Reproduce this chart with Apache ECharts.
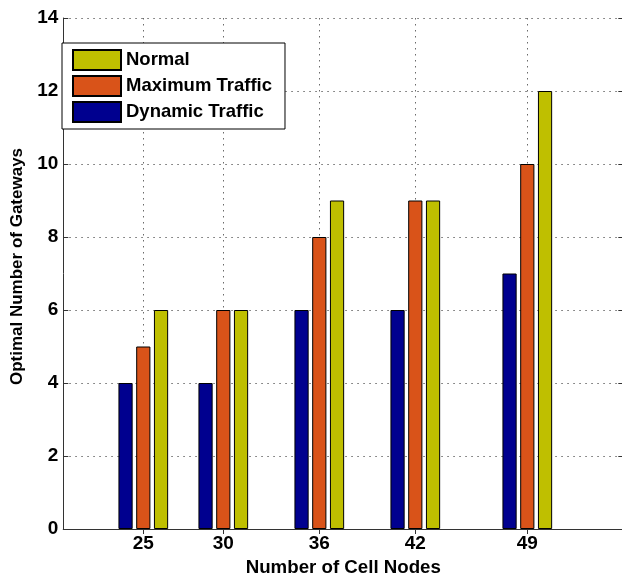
<!DOCTYPE html>
<html>
<head>
<meta charset="utf-8">
<title>Optimal Number of Gateways</title>
<script src="https://cdn.jsdelivr.net/npm/echarts@6/dist/echarts.min.js"></script>
<style>
  html, body { margin: 0; padding: 0; background: #fff; }
  #chart { width: 622px; height: 574px; }
</style>
</head>
<body>
<div id="chart"></div>
<script>
// Number of cell nodes (x positions of the bar groups)
const cellNodes = [25, 30, 36, 42, 49];
// Optimal number of gateways per scenario
const dynamicTraffic = [4, 4, 6, 6, 7];
const maximumTraffic = [5, 6, 8, 9, 10];
const normalTraffic = [6, 6, 9, 9, 12];
const yTicks = [0, 2, 4, 6, 8, 10, 12, 14];

const FONT = '"Liberation Sans", Arial, sans-serif';
const AXIS_COLOR = '#333';
const gridDots = { color: '#6a6a6a', width: 1, type: [1.5, 4.5] };

function pairs(values) {
  return cellNodes.map((x, i) => [x, values[i]]);
}

const barBase = {
  type: 'bar',
  barWidth: 14.2,
  barGap: '25%',
  z: 3,
  animation: false
};

const chart = echarts.init(document.getElementById('chart'), null, { renderer: 'canvas' });

chart.setOption({
  backgroundColor: '#fff',
  animation: false,
  grid: {
    left: 63.3, top: 18, width: 560, height: 511,
    containLabel: false,
    outerBoundsMode: 'none'
  },
  legend: {
    left: 62,
    top: 43,
    orient: 'vertical',
    selectedMode: false,
    backgroundColor: '#fff',
    borderColor: '#000',
    borderWidth: 1,
    borderRadius: 0,
    padding: [6, 13, 6, 10],
    itemWidth: 48,
    itemHeight: 20,
    itemGap: 4,
    icon: 'rect',
    z: 10,
    textStyle: { fontFamily: FONT, fontWeight: 'bold', fontSize: 18.5, color: '#000' },
    data: ['Normal', 'Maximum Traffic', 'Dynamic Traffic']
  },
  xAxis: [
    {
      type: 'value',
      min: 20,
      max: 55,
      name: 'Number of Cell Nodes',
      nameLocation: 'middle',
      nameGap: 26,
      nameTextStyle: { fontFamily: FONT, fontWeight: 'bold', fontSize: 18.7, color: '#000' },
      axisLine: { show: true, lineStyle: { color: AXIS_COLOR, width: 1 } },
      axisTick: { show: true, inside: true, length: 5, customValues: cellNodes, lineStyle: { color: AXIS_COLOR } },
      axisLabel: {
        customValues: cellNodes,
        margin: 5,
        fontFamily: FONT, fontWeight: 'bold', fontSize: 19, color: '#000'
      },
      splitLine: { show: true, lineStyle: gridDots }
    },
    {
      type: 'value',
      position: 'top',
      min: 20,
      max: 55,
      axisLine: { show: true, lineStyle: { color: AXIS_COLOR, width: 1 } },
      axisTick: { show: true, inside: true, length: 5, customValues: cellNodes, lineStyle: { color: AXIS_COLOR } },
      axisLabel: { show: false, customValues: cellNodes },
      splitLine: { show: false }
    }
  ],
  yAxis: [
    {
      type: 'value',
      min: 0,
      max: 14,
      interval: 2,
      name: 'Optimal Number of Gateways',
      nameLocation: 'middle',
      nameGap: 35,
      nameTextStyle: {
        fontFamily: FONT, fontWeight: 'bold', fontSize: 17, color: '#000',
        padding: [0, 0, 0, 14]
      },
      axisLine: { show: true, lineStyle: { color: AXIS_COLOR, width: 1 } },
      axisTick: { show: true, inside: true, length: 5, lineStyle: { color: AXIS_COLOR } },
      axisLabel: {
        margin: 5,
        fontFamily: FONT, fontWeight: 'bold', fontSize: 19, color: '#000',
        formatter: v => (yTicks.includes(v) ? String(v) : '')
      },
      splitLine: { show: true, lineStyle: gridDots }
    },
    {
      type: 'value',
      position: 'right',
      min: 0,
      max: 14,
      interval: 2,
      axisLine: { show: false },
      axisTick: { show: true, inside: true, length: 5, lineStyle: { color: AXIS_COLOR } },
      axisLabel: { show: false },
      splitLine: { show: false }
    }
  ],
  series: [
    Object.assign({}, barBase, {
      name: 'Dynamic Traffic',
      data: pairs(dynamicTraffic),
      itemStyle: { color: '#00008F', borderColor: '#000', borderWidth: 1 }
    }),
    Object.assign({}, barBase, {
      name: 'Maximum Traffic',
      data: pairs(maximumTraffic),
      itemStyle: { color: '#D95319', borderColor: '#000', borderWidth: 1 }
    }),
    Object.assign({}, barBase, {
      name: 'Normal',
      data: pairs(normalTraffic),
      itemStyle: { color: '#BFBF00', borderColor: '#000', borderWidth: 1 }
    })
  ]
});
</script>
</body>
</html>
